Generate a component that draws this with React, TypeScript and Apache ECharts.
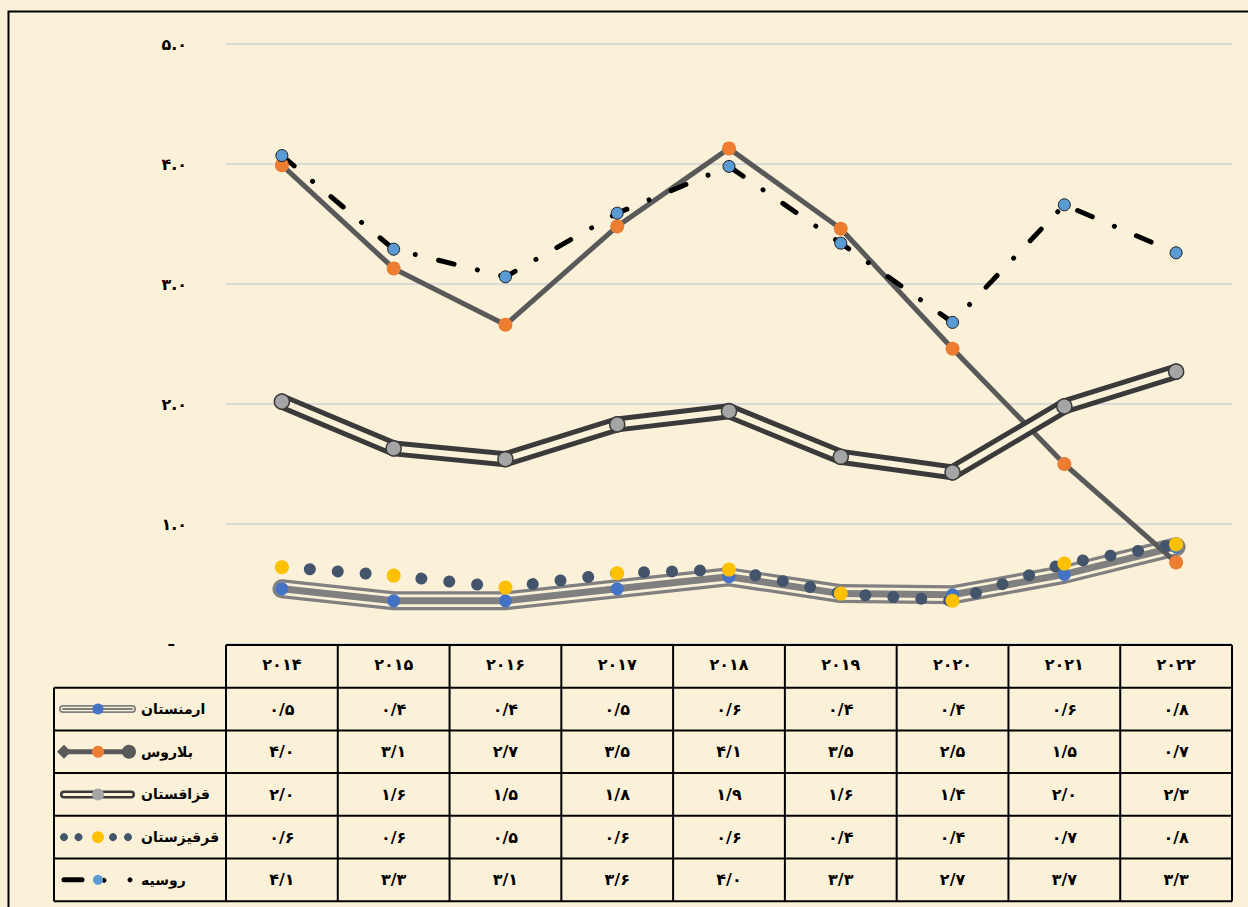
import React, { useEffect, useRef } from "react";
import * as echarts from "echarts";

// ---------- data ----------
const years = ["2014", "2015", "2016", "2017", "2018", "2019", "2020", "2021", "2022"];
const names = ["ارمنستان", "بلاروس", "قزاقستان", "قرقیزستان", "روسیه"];
const armenia = [0.46, 0.36, 0.36, 0.46, 0.56, 0.42, 0.41, 0.58, 0.81];
const belarus = [3.99, 3.13, 2.66, 3.48, 4.13, 3.46, 2.46, 1.5, 0.68];
const kazakhstan = [2.02, 1.63, 1.54, 1.83, 1.94, 1.56, 1.43, 1.98, 2.27];
const kyrgyzstan = [0.64, 0.57, 0.47, 0.59, 0.62, 0.42, 0.36, 0.67, 0.83];
const russia = [4.07, 3.29, 3.06, 3.59, 3.98, 3.34, 2.68, 3.66, 3.26];
const yTicks = { min: 0, max: 5, interval: 1 };

const tableSeries = [armenia, belarus, kazakhstan, kyrgyzstan, russia];

const FA = "۰۱۲۳۴۵۶۷۸۹";
const toFa = (s: string) => s.replace(/[0-9]/g, (d) => FA[+d]);

const FONT = '"DejaVu Sans", sans-serif';
const CREAM = "#FBF1D9";

// ---------- layout ----------
const W = 1248;
const H = 907;
const PLOT_L = 226;
const PLOT_R = 1232;
const PLOT_T = 44;
const PLOT_B = 644;
const TABLE_T = 645;
const ROW_H = 42.7;
const LEG_L = 54;

export default function App() {
  const ref = useRef<HTMLDivElement>(null);

  useEffect(() => {
    if (!ref.current) return;
    const chart = echarts.init(ref.current, null, { renderer: "svg" });

    const lineBase = (data: number[], color: string, width: number, extra: any = {}) => ({
      type: "line",
      data,
      silent: true,
      showSymbol: false,
      symbol: "none",
      lineStyle: { color, width, cap: "round", join: "round" },
      ...extra,
    });

    const option: any = {
      animation: false,
      backgroundColor: "transparent",
      grid: { left: PLOT_L, right: W - PLOT_R, top: PLOT_T, bottom: H - PLOT_B, containLabel: false },
      xAxis: {
        type: "category",
        data: years,
        boundaryGap: true,
        axisLine: { show: false },
        axisTick: { show: false },
        axisLabel: {
          formatter: (v: string) => toFa(v),
          color: "#000",
          fontWeight: "bold",
          fontSize: 16,
          fontFamily: FONT,
          margin: 12,
        },
      },
      yAxis: {
        type: "value",
        min: yTicks.min,
        max: yTicks.max,
        interval: yTicks.interval,
        axisLine: { show: false },
        axisTick: { show: false },
        splitLine: { lineStyle: { color: "#D9D9D9", width: 2 } },
        axisLabel: {
          formatter: (v: number) => (v === 0 ? "{z|–}" : toFa(v.toFixed(1))),
          color: "#000",
          fontWeight: "bold",
          fontSize: 16,
          fontFamily: FONT,
          margin: 39,
          rich: { z: { padding: [0, 12, 0, 0], fontSize: 15, fontWeight: "bold", color: "#000" } },
        },
      },
      series: [
        // Armenia - triple line
        lineBase(armenia, "#808080", 19),
        lineBase(armenia, CREAM, 12.5),
        lineBase(armenia, "#808080", 7, {
          showSymbol: true,
          symbol: "circle",
          symbolSize: 13,
          itemStyle: { color: "#4472C4" },
        }),
        // Belarus
        lineBase(belarus, "#595959", 5, {
          showSymbol: true,
          symbol: "circle",
          symbolSize: 14,
          itemStyle: { color: "#ED7D31" },
        }),
        // Kazakhstan - double line
        lineBase(kazakhstan, "#3A3A3A", 16),
        lineBase(kazakhstan, CREAM, 6, {
          showSymbol: true,
          symbol: "circle",
          symbolSize: 15,
          itemStyle: { color: "#A5A5A5", borderColor: "#3A3A3A", borderWidth: 1.5 },
        }),
        // Kyrgyzstan - round dots
        {
          ...lineBase(kyrgyzstan, "#44546A", 12),
          lineStyle: { color: "#44546A", width: 12, cap: "round", join: "round", type: [0.001, 28] },
          showSymbol: true,
          symbol: "circle",
          symbolSize: 14,
          itemStyle: { color: "#FFC000" },
        },
        // Russia - dash dot
        {
          ...lineBase(russia, "#000", 5),
          lineStyle: { color: "#000", width: 5, cap: "round", join: "round", type: [16, 24, 0.001, 24] },
          showSymbol: true,
          symbol: "circle",
          symbolSize: 12,
          itemStyle: { color: "#5B9BD5", borderColor: "#1a1a1a", borderWidth: 1 },
        },
      ],
    };

    chart.setOption(option);

    // ---------- data table via graphic ----------
    const g: any[] = [];
    const black = { stroke: "#000", lineWidth: 2 };
    const nCols = years.length;
    const colW = (PLOT_R - PLOT_L) / nCols;
    const rowY = (r: number) => TABLE_T + r * ROW_H; // r = 0 header top
    const tableBottom = rowY(names.length + 1);

    // outer frame of the image
    g.push({ type: "rect", shape: { x: 8.5, y: 11.5, width: 1400, height: 1200 }, style: { fill: "none", stroke: "#000", lineWidth: 2 }, silent: true });

    // horizontal lines
    g.push({ type: "line", shape: { x1: PLOT_L, y1: rowY(0), x2: PLOT_R, y2: rowY(0) }, style: black });
    for (let r = 1; r <= names.length + 1; r++) {
      g.push({ type: "line", shape: { x1: LEG_L, y1: rowY(r), x2: PLOT_R, y2: rowY(r) }, style: black });
    }
    // vertical lines
    g.push({ type: "line", shape: { x1: LEG_L, y1: rowY(1), x2: LEG_L, y2: tableBottom }, style: black });
    for (let c = 0; c <= nCols; c++) {
      const x = PLOT_L + c * colW;
      g.push({ type: "line", shape: { x1: x, y1: rowY(0), x2: x, y2: tableBottom }, style: black });
    }

    // values
    tableSeries.forEach((arr, r) => {
      const cy = rowY(r + 1) + ROW_H / 2;
      arr.forEach((v, i) => {
        const px = chart.convertToPixel({ xAxisIndex: 0 }, i) as number;
        g.push({
          type: "text",
          x: px,
          y: cy,
          style: {
            text: toFa(v.toFixed(1)).replace(".", "/"),
            align: "center",
            verticalAlign: "middle",
            fill: "#000",
            fontSize: 16,
            fontWeight: "bold",
            fontFamily: FONT,
          },
        });
      });
      // legend names
      g.push({
        type: "text",
        x: 141,
        y: cy,
        style: {
          text: names[r],
          align: "left",
          verticalAlign: "middle",
          fill: "#000",
          fontSize: 14,
          fontWeight: "bold",
          fontFamily: FONT,
        },
      });
    });

    // legend keys
    const cyR = (r: number) => rowY(r + 1) + ROW_H / 2;
    // Armenia
    {
      const y = cyR(0);
      g.push({ type: "line", shape: { x1: 63, y1: y, x2: 132, y2: y }, style: { stroke: "#808080", lineWidth: 8, lineCap: "round" } });
      g.push({ type: "line", shape: { x1: 63, y1: y, x2: 132, y2: y }, style: { stroke: CREAM, lineWidth: 4.5, lineCap: "round" } });
      g.push({ type: "line", shape: { x1: 63, y1: y, x2: 132, y2: y }, style: { stroke: "#808080", lineWidth: 2, lineCap: "round" } });
      g.push({ type: "circle", shape: { cx: 98, cy: y, r: 5.5 }, style: { fill: "#4472C4" } });
    }
    // Belarus
    {
      const y = cyR(1);
      g.push({ type: "line", shape: { x1: 62, y1: y, x2: 130, y2: y }, style: { stroke: "#595959", lineWidth: 5 } });
      g.push({ type: "polygon", shape: { points: [[57, y], [64, y - 7], [71, y], [64, y + 7]] }, style: { fill: "#595959" } });
      g.push({ type: "circle", shape: { cx: 129, cy: y, r: 7 }, style: { fill: "#595959" } });
      g.push({ type: "circle", shape: { cx: 98, cy: y, r: 6 }, style: { fill: "#ED7D31" } });
    }
    // Kazakhstan
    {
      const y = cyR(2);
      g.push({ type: "line", shape: { x1: 64, y1: y, x2: 131, y2: y }, style: { stroke: "#3A3A3A", lineWidth: 8, lineCap: "round" } });
      g.push({ type: "line", shape: { x1: 64, y1: y, x2: 131, y2: y }, style: { stroke: CREAM, lineWidth: 3, lineCap: "round" } });
      g.push({ type: "circle", shape: { cx: 98, cy: y, r: 6 }, style: { fill: "#A5A5A5" } });
    }
    // Kyrgyzstan
    {
      const y = cyR(3);
      [64, 78.5, 113, 128].forEach((x) => g.push({ type: "circle", shape: { cx: x, cy: y, r: 4 }, style: { fill: "#44546A" } }));
      g.push({ type: "circle", shape: { cx: 98, cy: y, r: 6 }, style: { fill: "#FFC000" } });
    }
    // Russia
    {
      const y = cyR(4);
      g.push({ type: "line", shape: { x1: 64, y1: y, x2: 82, y2: y }, style: { stroke: "#000", lineWidth: 5, lineCap: "round" } });
      g.push({ type: "circle", shape: { cx: 104, cy: y + 0.5, r: 2.5 }, style: { fill: "#000" } });
      g.push({ type: "circle", shape: { cx: 98, cy: y, r: 5 }, style: { fill: "#5B9BD5" } });
      g.push({ type: "circle", shape: { cx: 130, cy: y, r: 2.5 }, style: { fill: "#000" } });
    }

    chart.setOption({ graphic: g.map((e) => ({ silent: true, ...e })) });

    return () => chart.dispose();
  }, []);

  return (
    <div
      style={{
        position: "fixed",
        left: 0,
        top: 0,
        width: W,
        height: H,
        background: "#FBF1D9",
        overflow: "hidden",
      }}
    >
      <div ref={ref} style={{ width: W, height: H }} />
    </div>
  );
}
